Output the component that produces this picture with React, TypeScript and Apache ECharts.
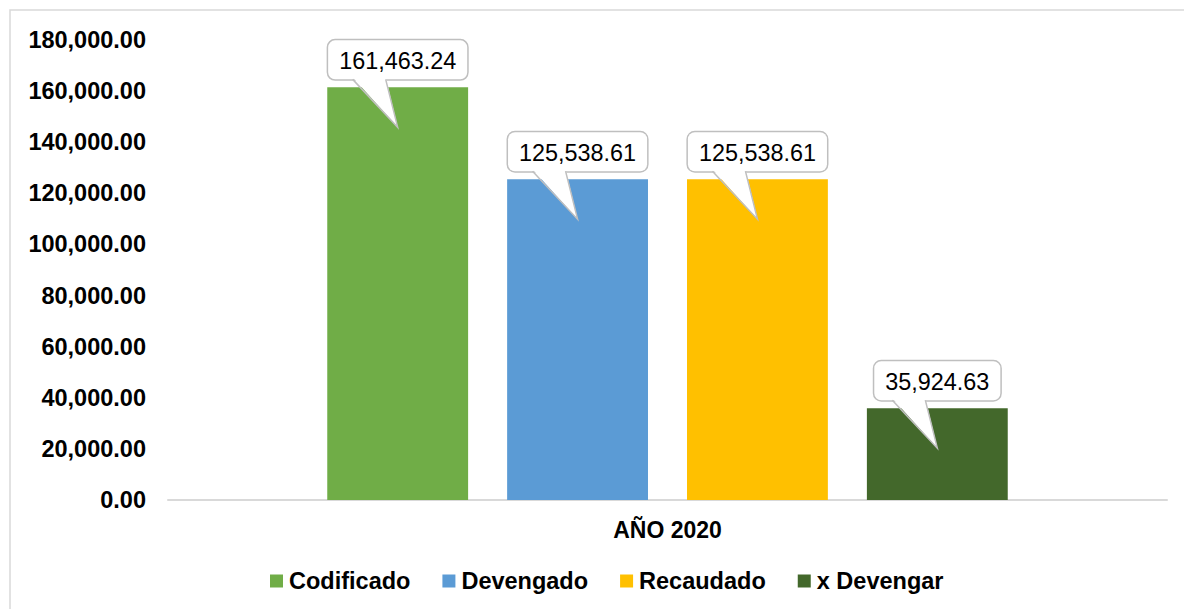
import React, { useEffect, useRef } from 'react';
import * as echarts from 'echarts';

const categories = ['AÑO 2020'];
const seriesNames = ['Codificado', 'Devengado', 'Recaudado', 'x Devengar'];
const seriesValues = [161463.24, 125538.61, 125538.61, 35924.63];
const seriesColors = ['#70AD47', '#5B9BD5', '#FFC000', '#43682B'];
const yMin = 0;
const yMax = 180000;
const yInterval = 20000;

const FONT = '"Liberation Sans", Arial, sans-serif';
const BAR_W = 0.141;
const BAR_GAP = 0.277;

const fmt = (v: number) =>
  v.toLocaleString('en-US', { minimumFractionDigits: 2, maximumFractionDigits: 2 });

export default function App() {
  const ref = useRef<HTMLDivElement>(null);
  useEffect(() => {
    if (!ref.current) return;
    const chart = echarts.init(ref.current, undefined, { renderer: 'svg' });
    const n = seriesValues.length;
    const barSeries = seriesNames.map((name, i) => ({
      name,
      type: 'bar',
      data: [seriesValues[i]],
      barWidth: `${BAR_W * 100}%`,
      barGap: `${BAR_GAP * 100}%`,
      itemStyle: { color: seriesColors[i] },
      emphasis: { disabled: true },
    }));
    const calloutSeries = {
      type: 'custom',
      name: 'callouts',
      coordinateSystem: 'cartesian2d',
      silent: true,
      z: 10,
      data: seriesValues.map((v, i) => [0, v, i]),
      encode: { x: 0, y: 1 },
      renderItem: (params: any, api: any) => {
        const cat = api.value(0);
        const val = api.value(1) as number;
        const idx = api.value(2) as number;
        const pt = api.coord([cat, val]);
        const bandW = api.size([1, 0])[0];
        const barW = bandW * BAR_W;
        const gap = barW * BAR_GAP;
        const total = n * barW + (n - 1) * gap;
        const cx = pt[0] - total / 2 + idx * (barW + gap) + barW / 2;
        const top = pt[1];
        const bb = top - 8;
        const tipY = top + 40;
        return {
          type: 'group',
          children: [
            {
              type: 'text',
              style: {
                x: cx,
                y: bb,
                text: fmt(val),
                font: `23.4px ${FONT}`,
                fill: '#000',
                align: 'center',
                verticalAlign: 'bottom',
                backgroundColor: '#fff',
                borderColor: '#bfbfbf',
                borderWidth: 1.5,
                borderRadius: 7,
                padding: [9, 11, 7, 11],
              },
            },
            {
              type: 'polygon',
              shape: { points: [[cx - 45, bb - 2], [cx - 12, bb - 2], [cx, tipY]] },
              style: { fill: '#fff' },
            },
            {
              type: 'polyline',
              shape: { points: [[cx - 45, bb], [cx, tipY], [cx - 12, bb]] },
              style: { stroke: '#bfbfbf', lineWidth: 1.5, fill: null },
            },
          ],
        };
      },
    };
    chart.setOption({
      animation: false,
      backgroundColor: '#fff',
      textStyle: { fontFamily: FONT },
      graphic: [
        {
          type: 'rect',
          shape: { x: 10, y: 10, width: 1300, height: 700 },
          style: { fill: 'none', stroke: '#d9d9d9', lineWidth: 1.5 },
          silent: true,
        },
      ],
      grid: { left: 168, right: 17, top: 40, bottom: 109, containLabel: false },
      legend: {
        data: seriesNames,
        top: 564,
        left: 265,
        icon: 'rect',
        itemWidth: 13,
        itemHeight: 13,
        itemGap: 32,
        selectedMode: false,
        textStyle: {
          fontSize: 23.5,
          fontWeight: 'bold',
          color: '#000',
          fontFamily: FONT,
          padding: [0, 0, 0, 1],
        },
      },
      xAxis: {
        type: 'category',
        data: categories,
        axisLine: { show: true, lineStyle: { color: '#d9d9d9', width: 2 } },
        axisTick: { show: false },
        axisLabel: {
          margin: 18,
          fontSize: 23,
          fontWeight: 'bold',
          color: '#000',
          fontFamily: FONT,
        },
      },
      yAxis: {
        type: 'value',
        min: yMin,
        max: yMax,
        interval: yInterval,
        axisLine: { show: false },
        axisTick: { show: false },
        splitLine: { show: false },
        axisLabel: {
          margin: 22,
          fontSize: 23.5,
          fontWeight: 'bold',
          color: '#000',
          fontFamily: FONT,
          formatter: (v: number) => fmt(v),
        },
      },
      series: [...barSeries, calloutSeries],
    });
    return () => chart.dispose();
  }, []);
  return (
    <div
      ref={ref}
      style={{ position: 'absolute', left: 0, top: 0, width: 1184, height: 609 }}
    />
  );
}
